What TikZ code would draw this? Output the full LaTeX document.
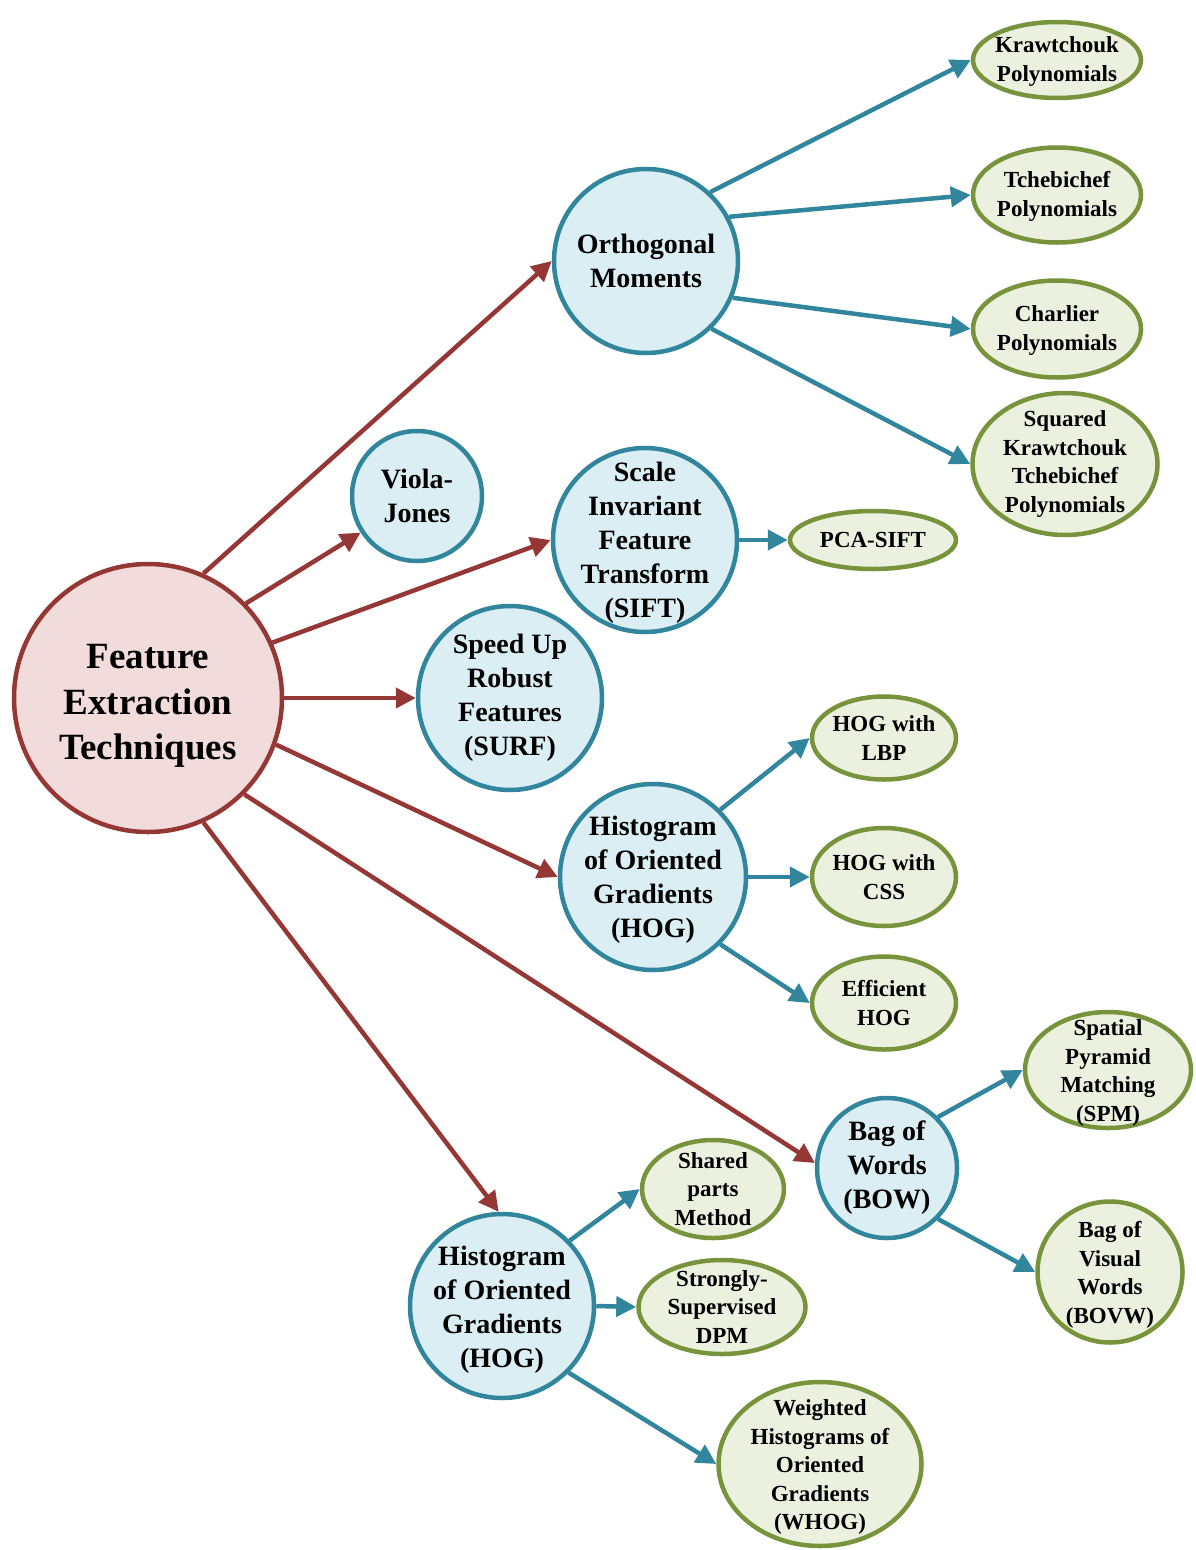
\documentclass[tikz,border=0pt]{standalone}
\usepackage{fontspec}
\setmainfont{Liberation Serif}
\usetikzlibrary{arrows.meta,shapes.geometric}
\definecolor{rootfill}{HTML}{F2DCDB}
\definecolor{rootline}{HTML}{953735}
\definecolor{midfill}{HTML}{DBEEF4}
\definecolor{midline}{HTML}{31859C}
\definecolor{leaffill}{HTML}{EBF1DE}
\definecolor{leafline}{HTML}{77933C}

\begin{document}
\begin{tikzpicture}[
  x=1pt,y=-1pt,
  rootnode/.style={circle,draw=rootline,fill=rootfill,line width=4.5pt,inner sep=-40pt,
    minimum size=268pt,align=center,font=\fontsize{37}{45.5}\selectfont\bfseries},
  midnode/.style={circle,draw=midline,fill=midfill,line width=4.5pt,inner sep=-40pt,
    align=center,font=\fontsize{28}{34}\selectfont\bfseries},
  leafnode/.style={ellipse,draw=leafline,fill=leaffill,line width=4.5pt,inner sep=-40pt,
    align=center,font=\fontsize{23}{28.5}\selectfont\bfseries},
  rootedge/.style={-{Triangle[length=20pt,width=20pt]},line width=4.5pt,draw=rootline},
  midedge/.style={-{Triangle[length=20pt,width=20pt]},line width=4.5pt,draw=midline}
]
\useasboundingbox (0,0) rectangle (1195,1550);
% root
\node[rootnode] (root) at (148,698) {\rule{0pt}{40pt}Feature\\Extraction\\Techniques};
% second level
\node[midnode,minimum size=184pt] (ortho) at (646,261) {Orthogonal\\Moments};
\node[midnode,minimum size=130pt] (viola) at (417,496) {Viola-\\Jones};
\node[midnode,minimum size=184pt] (sift) at (645,540) {\rule{0pt}{24pt}Scale\\Invariant\\Feature\\Transform\\(SIFT)};
\node[midnode,minimum size=184pt] (surf) at (510,698) {Speed Up\\Robust\\Features\\(SURF)};
\node[midnode,minimum size=186pt] (hogA) at (653,877) {\rule{0pt}{24pt}Histogram\\of Oriented\\Gradients\\(HOG)};
\node[midnode,minimum size=140pt] (bow) at (887,1168) {Bag of\\Words\\(BOW)};
\node[midnode,minimum size=184pt] (hogB) at (502,1306) {\rule{0pt}{27pt}Histogram\\of Oriented\\Gradients\\(HOG)};
% leaves
\node[leafnode,minimum width=168pt,minimum height=76pt] (kraw) at (1057,60) {\rule{0pt}{19pt}Krawtchouk\\Polynomials};
\node[leafnode,minimum width=168pt,minimum height=95pt] (tcheb) at (1057,195) {\rule{0pt}{19pt}Tchebichef\\Polynomials};
\node[leafnode,minimum width=168pt,minimum height=97pt] (charl) at (1057,329) {\rule{0pt}{19pt}Charlier\\Polynomials};
\node[leafnode,minimum width=185pt,minimum height=142pt] (sqkt) at (1065,464) {Squared\\Krawtchouk\\Tchebichef\\Polynomials};
\node[leafnode,minimum width=166pt,minimum height=58pt] (pcasift) at (873,540) {PCA-SIFT};
\node[leafnode,minimum width=144pt,minimum height=83pt] (hoglbp) at (884,738) {HOG with\\LBP};
\node[leafnode,minimum width=144pt,minimum height=98pt] (hogcss) at (884,877) {HOG with\\CSS};
\node[leafnode,minimum width=144pt,minimum height=93pt] (effhog) at (884,1003) {Efficient\\HOG};
\node[leafnode,minimum width=166pt,minimum height=116pt] (spm) at (1108,1070) {\rule{0pt}{22pt}Spatial\\Pyramid\\Matching\\(SPM)};
\node[leafnode,minimum width=145pt,minimum height=141pt] (bovw) at (1110,1272) {\rule{0pt}{22pt}Bag of\\Visual\\Words\\(BOVW)};
\node[leafnode,minimum width=142pt,minimum height=98pt] (shared) at (713,1189) {Shared\\parts\\Method};
\node[leafnode,minimum width=167pt,minimum height=94pt] (ssdpm) at (722,1307) {Strongly-\\Supervised\\DPM};
\node[leafnode,minimum width=203pt,minimum height=164pt] (whog) at (820,1464) {\rule{0pt}{22pt}Weighted\\Histograms of\\Oriented\\Gradients\\(WHOG)};
% root arrows
\draw[rootedge] (root.66) -- (ortho.180);
\draw[rootedge] (root.44) -- (viola.213);
\draw[rootedge] (root.24) -- (sift.west);
\draw[rootedge] (root.east) -- (surf.west);
\draw[rootedge] (root.-20) -- (hogA.west);
\draw[rootedge] (root.-45) -- (bow.176);
\draw[rootedge] (root.-66) -- (hogB.92);
% second level arrows
\draw[midedge] (ortho.47) -- (kraw.west);
\draw[midedge] (ortho.28) -- (tcheb.west);
\draw[midedge] (ortho.-23) -- (charl.west);
\draw[midedge] (ortho.-46) -- (sqkt.west);
\draw[midedge] (sift.east) -- (pcasift.west);
\draw[midedge] (hogA.45) -- (hoglbp.west);
\draw[midedge] (hogA.east) -- (hogcss.west);
\draw[midedge] (hogA.-45) -- (effhog.west);
\draw[midedge] (bow.45) -- (spm.west);
\draw[midedge] (bow.-45) -- (bovw.west);
\draw[midedge] (hogB.44) -- (shared.west);
\draw[midedge] (hogB.east) -- (ssdpm.west);
\draw[midedge] (hogB.-45) -- (whog.west);
\end{tikzpicture}
\end{document}
